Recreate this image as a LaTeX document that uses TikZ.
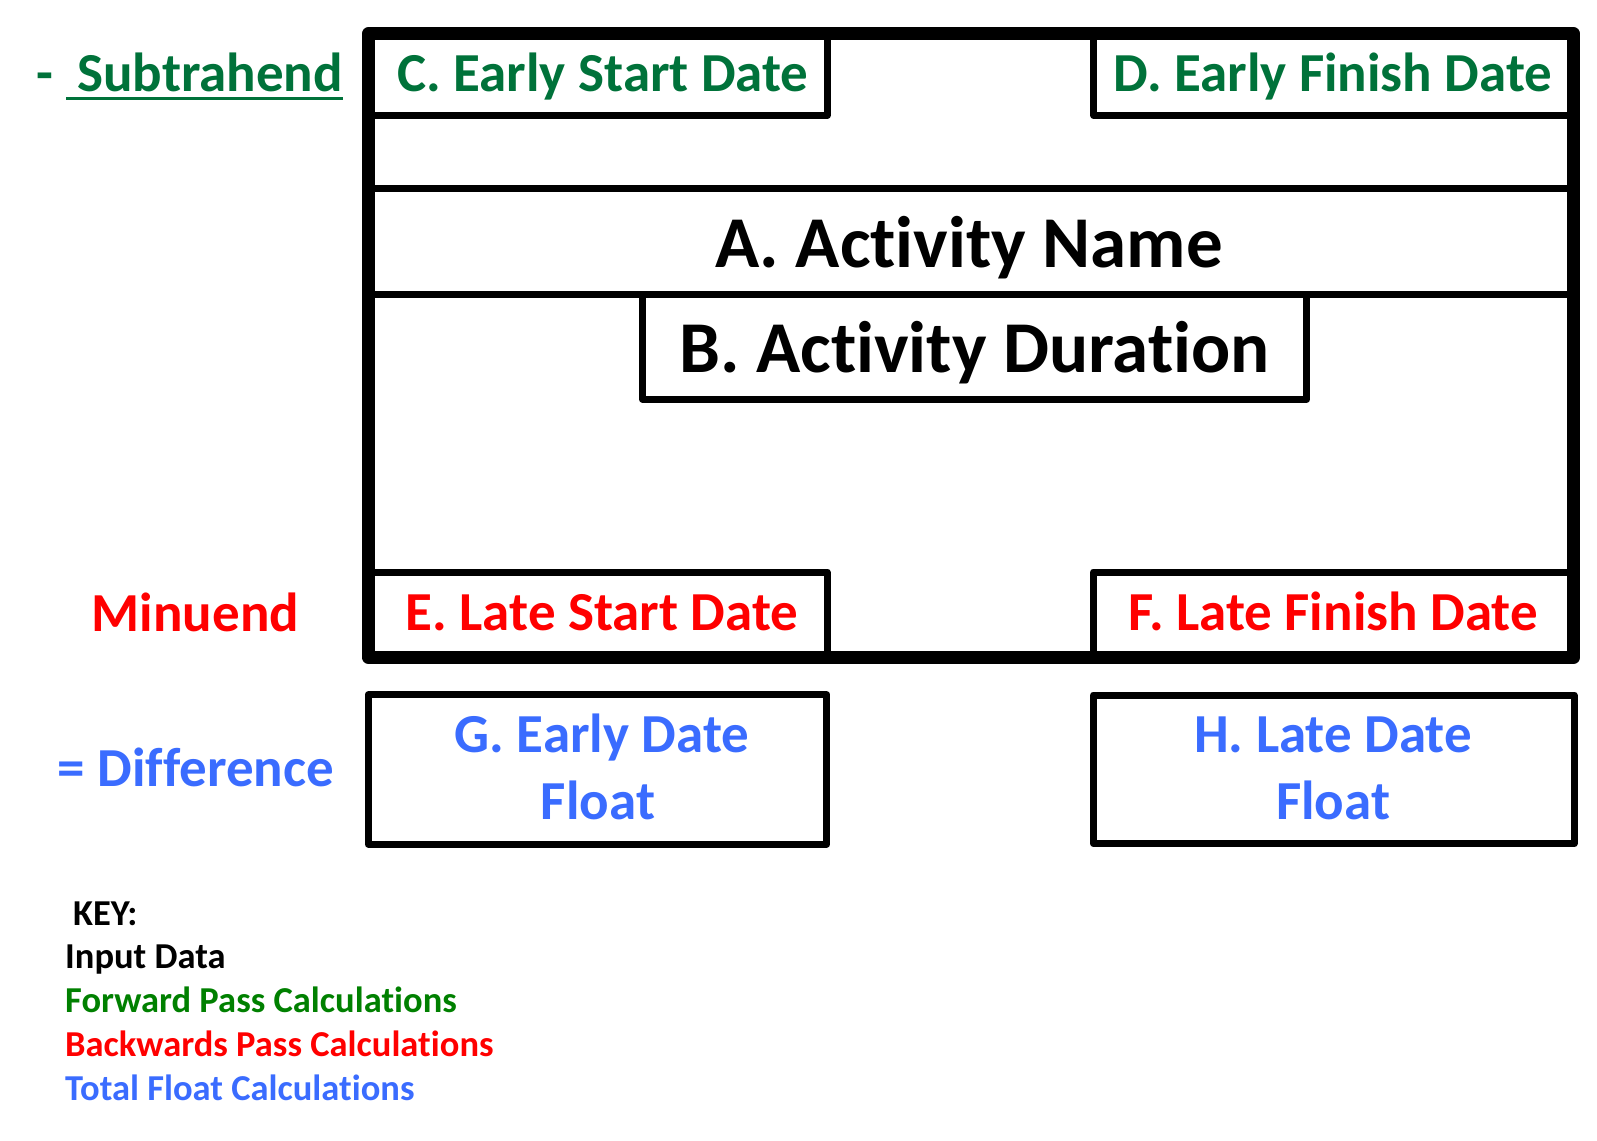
\documentclass[tikz,border=0pt]{standalone}
\usepackage{fontspec}
\setmainfont{Carlito}[Ligatures=NoCommon]
\definecolor{dgreen}{RGB}{0,114,58}
\definecolor{kgreen}{RGB}{0,128,0}
\definecolor{kred}{RGB}{255,0,0}
\definecolor{kblue}{RGB}{58,108,255}
\newcommand\setfs[1]{\fontsize{#1}{#1}\selectfont}
\newcommand\nolig{\kern0pt{}}
\begin{document}
\begin{tikzpicture}[x=1pt,y=-1pt,
  cell/.style={draw, line width=7pt, line join=round, inner sep=0pt, outer sep=0pt},
  frame/.style={draw, line width=13pt, line join=round, inner sep=0pt, outer sep=0pt},
  rule/.style={line width=7pt},
  lbl/.style={inner sep=0pt, anchor=base, font=\bfseries\setfs{55}},
  big/.style={inner sep=0pt, anchor=base, font=\bfseries\setfs{73}},
  keyt/.style={inner sep=0pt, anchor=base west, font=\bfseries\setfs{36.5}}]
\useasboundingbox (0,0) rectangle (1597,1140);
% cells
\node[cell, minimum width=459pt, minimum height=81.5pt] (C) at (597.5,74.75) {};
\node[cell, minimum width=480pt, minimum height=81.5pt] (D) at (1333.8,74.75) {};
\node[cell, minimum width=664.2pt, minimum height=104.8pt] (B) at (974.6,346.9) {};
\node[cell, minimum width=459pt, minimum height=85.3pt] (E) at (597.5,614.65) {};
\node[cell, minimum width=480.4pt, minimum height=85.3pt] (F) at (1333.5,614.65) {};
\node[cell, minimum width=458.4pt, minimum height=149.3pt] (G) at (597.5,769.35) {};
\node[cell, minimum width=480.7pt, minimum height=148.7pt] (H) at (1333.7,769.35) {};
% outer frame
\node[frame, minimum width=1205.4pt, minimum height=623.3pt] (frame) at (971,345.65) {};
\draw[rule] (frame.west |- 0,188) -- (frame.east |- 0,188);
\draw[rule] (frame.west |- 0,294.5) -- (frame.east |- 0,294.5);
% texts
\node[lbl, text=dgreen] (Ct) at (603,91.7) {C. Early Start Date};
\node[lbl, text=dgreen] (Dt) at (1333,91.7) {D. Early Finish Date};
\node[big] (At) at (969,267) {A. Act\nolig ivity Name};
\node[big] (Bt) at (974.5,372) {B. Act\nolig ivity Duration};
\node[lbl, text=kred] (Et) at (602,630.7) {E. Late Start Date};
\node[lbl, text=kred] (Ft) at (1333,630.7) {F. Late Finish Date};
\node[lbl, text=kblue] (Gt1) at (602,752.7) {G. Early Date};
\node[lbl, text=kblue] (Gt2) at (598,819.7) {Float};
\node[lbl, text=kblue] (Ht1) at (1333,752.7) {H. Late Date};
\node[lbl, text=kblue] (Ht2) at (1333,819.7) {Float};
% left labels
\node[lbl, anchor=base west, text=dgreen] (dash) at (36,92) {-};
\node[lbl, anchor=base east, text=dgreen] (sub) at (343,92) {Subtrahend};
\coordinate (ulA) at (66,98.5);
\coordinate (ulB) at (343,98.5);
\draw[dgreen, line width=3.5pt] (ulA) -- (ulB);
\node[lbl, text=kred] (min) at (195.5,631) {Minuend};
\node[lbl, text=kblue] (dif) at (196,786.7) {= Difference};
% key
\node[keyt] (key) at (73,925) {KEY:};
\node[keyt] (k1) at (65,968) {Input Data};
\node[keyt, text=kgreen] (k2) at (65,1012) {Forward Pass Calculat\nolig ions};
\node[keyt, text=kred] (k3) at (65,1056) {Backwards Pass Calculat\nolig ions};
\node[keyt, text=kblue] (k4) at (65,1100) {Total Float Calculat\nolig ions};
\end{tikzpicture}
\end{document}
